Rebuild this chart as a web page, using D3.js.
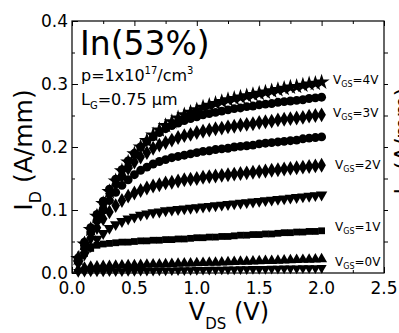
<!DOCTYPE html>
<html><head><meta charset="utf-8">
<script src="https://cdn.jsdelivr.net/npm/d3@7"></script>
<style>body{margin:0;background:#fff;overflow:hidden}svg{display:block}text{font-family:"DejaVu Sans",sans-serif;fill:#000}</style>
</head><body><svg id="c" width="399" height="333"></svg>
<script>
const vds = [0.05,0.10,0.15,0.20,0.25,0.30,0.35,0.40,0.45,0.50,0.55,0.60,0.65,0.70,0.75,0.80,0.85,0.90,0.95,1.00,1.05,1.10,1.15,1.20,1.25,1.30,1.35,1.40,1.45,1.50,1.55,1.60,1.65,1.70,1.75,1.80,1.85,1.90,1.95,2.00];
const id_vgs4  = [0.023,0.046,0.069,0.090,0.110,0.129,0.146,0.162,0.176,0.189,0.200,0.210,0.219,0.227,0.234,0.240,0.246,0.251,0.255,0.259,0.263,0.266,0.269,0.272,0.275,0.277,0.279,0.281,0.283,0.285,0.287,0.289,0.291,0.293,0.295,0.296,0.298,0.300,0.301,0.303];
const id_vgs35 = [0.024,0.049,0.072,0.093,0.114,0.133,0.149,0.164,0.178,0.190,0.200,0.209,0.216,0.223,0.229,0.234,0.238,0.242,0.245,0.248,0.251,0.253,0.255,0.257,0.259,0.261,0.262,0.264,0.265,0.267,0.268,0.269,0.271,0.272,0.273,0.274,0.275,0.277,0.278,0.279];
const id_vgs3  = [0.024,0.047,0.069,0.090,0.109,0.126,0.141,0.154,0.166,0.176,0.184,0.191,0.198,0.203,0.207,0.211,0.215,0.218,0.220,0.223,0.225,0.227,0.229,0.230,0.232,0.233,0.235,0.236,0.237,0.239,0.240,0.241,0.243,0.244,0.245,0.246,0.247,0.249,0.250,0.251];
const id_vgs25 = [0.022,0.044,0.065,0.083,0.100,0.115,0.128,0.139,0.148,0.156,0.163,0.168,0.173,0.177,0.180,0.183,0.185,0.187,0.189,0.191,0.193,0.194,0.196,0.197,0.198,0.200,0.201,0.202,0.203,0.205,0.206,0.207,0.208,0.209,0.210,0.211,0.213,0.214,0.215,0.216];
const id_vgs2  = [0.020,0.039,0.056,0.072,0.086,0.097,0.107,0.115,0.122,0.127,0.131,0.135,0.138,0.140,0.143,0.144,0.146,0.148,0.149,0.150,0.152,0.153,0.154,0.155,0.156,0.157,0.158,0.159,0.160,0.161,0.162,0.163,0.164,0.165,0.166,0.167,0.168,0.169,0.170,0.171];
const id_vgs15 = [0.015,0.029,0.042,0.054,0.063,0.071,0.077,0.082,0.086,0.089,0.092,0.094,0.096,0.097,0.099,0.100,0.101,0.102,0.103,0.104,0.105,0.106,0.107,0.108,0.109,0.110,0.111,0.112,0.113,0.114,0.115,0.116,0.117,0.118,0.119,0.120,0.121,0.122,0.123,0.124];
const id_vgs1  = [0.018,0.031,0.039,0.044,0.046,0.047,0.048,0.049,0.049,0.050,0.051,0.051,0.052,0.052,0.053,0.053,0.054,0.054,0.055,0.056,0.056,0.057,0.057,0.058,0.058,0.059,0.060,0.060,0.061,0.061,0.062,0.062,0.063,0.064,0.064,0.065,0.065,0.066,0.066,0.067];
const id_vgs05 = [0.0056,0.0087,0.0101,0.0107,0.0112,0.0115,0.0118,0.0121,0.0124,0.0127,0.0130,0.0133,0.0136,0.0139,0.0143,0.0146,0.0149,0.0152,0.0155,0.0158,0.0161,0.0164,0.0167,0.0170,0.0174,0.0177,0.0180,0.0183,0.0186,0.0189,0.0192,0.0195,0.0198,0.0201,0.0205,0.0208,0.0211,0.0214,0.0217,0.0220];
const id_vgs0  = [0.0016,0.0020,0.0023,0.0024,0.0026,0.0027,0.0029,0.0030,0.0032,0.0034,0.0035,0.0037,0.0038,0.0040,0.0041,0.0043,0.0044,0.0046,0.0047,0.0049,0.0051,0.0052,0.0054,0.0055,0.0057,0.0058,0.0060,0.0061,0.0063,0.0064,0.0066,0.0068,0.0069,0.0071,0.0072,0.0074,0.0075,0.0077,0.0078,0.0080];
const xTicks = [0.0,0.5,1.0,1.5,2.0,2.5];
const yTicks = [0.0,0.1,0.2,0.3,0.4];
const vgsLabels = ["4V","3V","2V","1V","0V"];

const svg = d3.select("#c");
const x = d3.scaleLinear().domain([0,2.5]).range([72,384]);
const y = d3.scaleLinear().domain([0,0.4]).range([273,21]);

const series = [
  {d:id_vgs0, shape:"tdown", size:44},
  {d:id_vgs05, shape:"tup", size:52},
  {d:id_vgs1, shape:"square", size:46},
  {d:id_vgs15, shape:"tdown", size:56},
  {d:id_vgs2, shape:"diamond", size:64},
  {d:id_vgs25, shape:"circle", size:62},
  {d:id_vgs3, shape:"diamond", size:64},
  {d:id_vgs35, shape:"circle", size:62},
  {d:id_vgs4, shape:"star", size:80}
];
const symMap = {tdown:d3.symbolTriangle, tup:d3.symbolTriangle, square:d3.symbolSquare,
  diamond:d3.symbolDiamond, circle:d3.symbolCircle, star:d3.symbolStar};

const gData = svg.append("g");
series.forEach(s => {
  const path = d3.symbol().type(symMap[s.shape]).size(s.size)();
  gData.append("g").selectAll("path").data(vds.map((v,i)=>[v,s.d[i]])).join("path")
    .attr("d", path)
    .attr("transform", d => `translate(${x(d[0])},${y(d[1])})` + (s.shape==="tdown" ? " rotate(180)" : ""))
    .attr("fill","#000");
});

function styleAxis(g){ g.selectAll(".domain").remove(); g.selectAll("line").attr("stroke","#000"); g.selectAll("text").remove(); }
svg.append("g").attr("transform","translate(72,0)").call(d3.axisLeft(y).tickValues(yTicks).tickSize(-6)).call(styleAxis);
svg.append("g").attr("transform","translate(72,0)").call(d3.axisLeft(y).tickValues([0.05,0.15,0.25,0.35]).tickSize(-3)).call(styleAxis);
svg.append("g").attr("transform","translate(0,273)").call(d3.axisBottom(x).tickValues(xTicks).tickSize(-6)).call(styleAxis);
svg.append("g").attr("transform","translate(0,273)").call(d3.axisBottom(x).tickValues([0.25,0.75,1.25,1.75,2.25]).tickSize(-3)).call(styleAxis);
svg.append("g").attr("transform","translate(0,21)").call(d3.axisTop(x).tickValues(xTicks).tickSize(-5)).call(styleAxis);
svg.append("g").attr("transform","translate(0,21)").call(d3.axisTop(x).tickValues([0.25,0.75,1.25,1.75,2.25]).tickSize(-3)).call(styleAxis);
svg.append("g").attr("transform","translate(384,0)").call(d3.axisRight(y).tickValues([0.05,0.1,0.15,0.2,0.25,0.3,0.35]).tickSize(4)).call(styleAxis);
svg.append("rect").attr("x",72).attr("y",21).attr("width",312).attr("height",252)
  .attr("fill","none").attr("stroke","#000").attr("stroke-width",1.2);

svg.append("g").selectAll("text").data(yTicks).join("text")
  .attr("x",68).attr("y",d=>y(d)+6).attr("text-anchor","end").attr("font-size",17)
  .text(d=>d3.format(".1f")(d));
svg.append("g").selectAll("text").data(xTicks).join("text")
  .attr("x",d=>x(d)).attr("y",294).attr("text-anchor","middle").attr("font-size",17)
  .text(d=>d3.format(".1f")(d));

const xt = svg.append("text").attr("x",229).attr("y",320).attr("text-anchor","middle").attr("font-size",24);
xt.append("tspan").text("V");
xt.append("tspan").attr("font-size",15).attr("dy",9).text("DS");
xt.append("tspan").attr("dy",-9).text(" (V)");

function yTitle(tx, ty, fs){
  const t = svg.append("text").attr("transform",`translate(${tx},${ty}) rotate(-90)`).attr("text-anchor","middle").attr("font-size",fs);
  t.append("tspan").text("I");
  t.append("tspan").attr("font-size",fs*0.64).attr("dy",fs*0.34).text("D");
  t.append("tspan").attr("dy",-fs*0.34).text(" (A/mm)");
}
yTitle(32,150,25);
yTitle(410,141,22);

svg.append("text").attr("x",80).attr("y",55).attr("font-size",33).text("In(53%)");
const p = svg.append("text").attr("x",81).attr("y",81).attr("font-size",16);
p.append("tspan").text("p=1x10");
p.append("tspan").attr("font-size",10).attr("dy",-7).text("17");
p.append("tspan").attr("dy",7).text("/cm");
p.append("tspan").attr("font-size",10).attr("dy",-7).text("3");
const lg = svg.append("text").attr("x",81).attr("y",105).attr("font-size",16);
lg.append("tspan").text("L");
lg.append("tspan").attr("font-size",10).attr("dy",4).text("G");
lg.append("tspan").attr("dy",-4).text("=0.75 \u03bcm");

const labX = [333,333,335,335,335];
const labY = [84,117,169,231,266];
vgsLabels.forEach((l,i)=>{
  const t = svg.append("text").attr("x",labX[i]).attr("y",labY[i]).attr("font-size",12);
  t.append("tspan").text("V");
  t.append("tspan").attr("font-size",8).attr("dy",3).text("GS");
  t.append("tspan").attr("dy",-3).text("="+l);
});
</script></body></html>
